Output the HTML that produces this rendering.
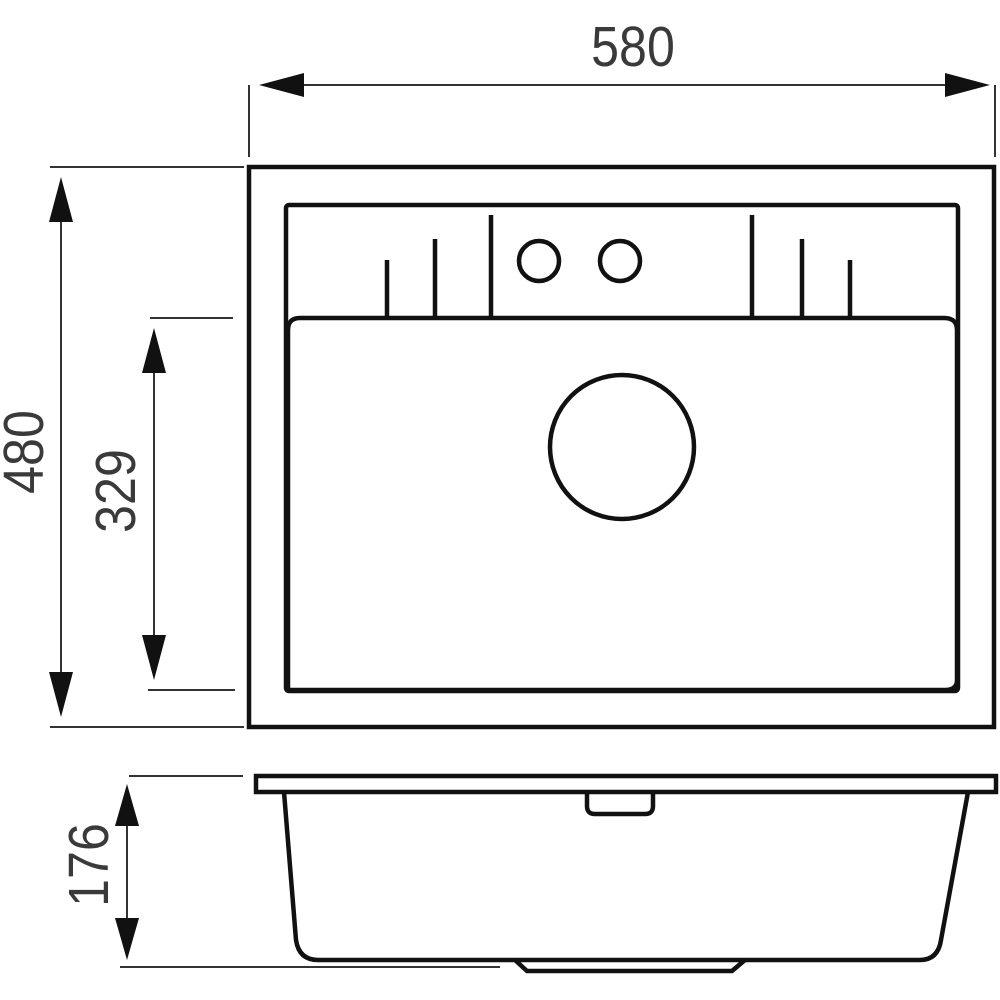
<!DOCTYPE html>
<html><head><meta charset="utf-8"><style>
html,body{margin:0;padding:0;background:#fff;}
svg{display:block;}
text{font-family:"Liberation Sans",sans-serif;fill:#3a3a3a;}
</style></head><body>
<svg width="1000" height="1000" viewBox="0 0 1000 1000" xmlns="http://www.w3.org/2000/svg">
<g fill="none" stroke="#111" stroke-width="4.5">
 <rect x="249" y="167" width="745" height="560"/>
 <rect x="286" y="205" width="672" height="486" rx="3"/>
 <path d="M288 690 L288 330 Q288 318 300 318 L944 318 Q957 318 957 330 L957 680 Q957 690 945 690 Z"/>
 <line x1="387" y1="260" x2="387" y2="318"/>
 <line x1="435" y1="239" x2="435" y2="318"/>
 <line x1="491" y1="215" x2="491" y2="318"/>
 <line x1="752" y1="215" x2="752" y2="318"/>
 <line x1="802" y1="239" x2="802" y2="318"/>
 <line x1="850" y1="260" x2="850" y2="318"/>
 <circle cx="539" cy="261" r="20"/>
 <circle cx="620" cy="261" r="20"/>
 <circle cx="622" cy="447" r="72"/>
 <rect x="256" y="776" width="740" height="16"/>
 <path d="M284 792 L296 940 Q299 960 318 960 L920 960 Q938 960 941 940 L968 792"/>
 <path d="M587 792 L587 806 Q587 814 595 814 L645 814 Q653 814 653 806 L653 792"/>
 <path d="M515 960 L527 971 L732 971 L745 960"/>
</g>
<g stroke="#333" stroke-width="2" fill="none">
 <line x1="249" y1="85" x2="249" y2="157"/>
 <line x1="995" y1="85" x2="995" y2="157"/>
 <line x1="270" y1="85" x2="975" y2="85"/>
 <line x1="50" y1="167" x2="244" y2="167"/>
 <line x1="50" y1="727" x2="244" y2="727"/>
 <line x1="61" y1="200" x2="61" y2="695"/>
 <line x1="150" y1="318" x2="233" y2="318"/>
 <line x1="148" y1="690" x2="235" y2="690"/>
 <line x1="154" y1="350" x2="154" y2="660"/>
 <line x1="129" y1="776" x2="243" y2="776"/>
 <line x1="120" y1="967" x2="500" y2="967"/>
 <line x1="127" y1="800" x2="127" y2="945"/>
</g>
<g fill="#111">
 <polygon points="259,85 304,73 304,97"/>
 <polygon points="990,85 945,73 945,97"/>
 <polygon points="61,177 49,222 73,222"/>
 <polygon points="61,717 49,672 73,672"/>
 <polygon points="154,328 142,373 166,373"/>
 <polygon points="154,680 142,635 166,635"/>
 <polygon points="127,784 115,826 139,826"/>
 <polygon points="127,960 115,918 139,918"/>
</g>
<text x="0" y="0" font-size="57" text-anchor="middle" transform="translate(633,66) scale(0.88,1)">580</text>
<text x="0" y="0" font-size="57" text-anchor="middle" transform="translate(43,452) rotate(-90) scale(0.88,1)">480</text>
<text x="0" y="0" font-size="57" text-anchor="middle" transform="translate(135,491) rotate(-90) scale(0.88,1)">329</text>
<text x="0" y="0" font-size="57" text-anchor="middle" transform="translate(108,865) rotate(-90) scale(0.88,1)">176</text>
</svg>
</body></html>
